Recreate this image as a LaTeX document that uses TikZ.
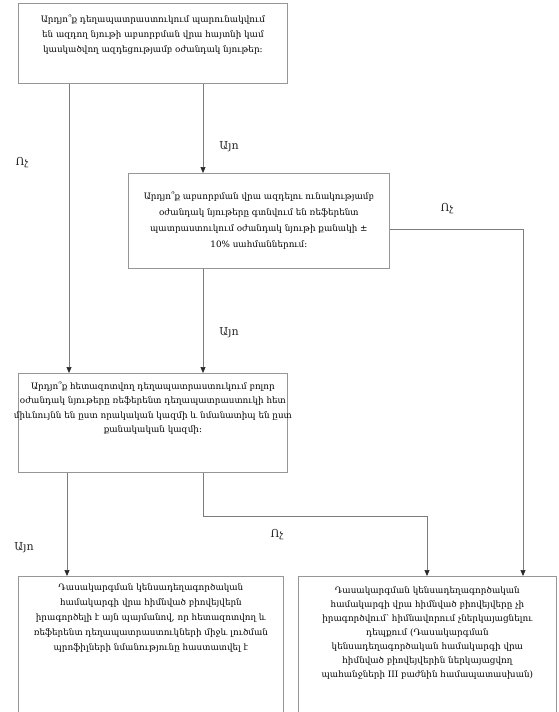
\documentclass[tikz,border=0pt]{standalone}
\usepackage{fontspec}
\setmainfont{DejaVu Serif}
\usetikzlibrary{arrows.meta}
\definecolor{boxgray}{RGB}{150,150,150}
\definecolor{linegray}{RGB}{125,125,125}
\definecolor{tipgray}{RGB}{40,40,40}
\tikzset{
  box/.style={draw=boxgray, line width=0.8pt, inner sep=0pt, anchor=north west},
  arr/.style={draw=linegray, line width=0.7pt, -{Triangle[length=6pt,width=5pt,fill=tipgray,color=tipgray]}},
  lbl/.style={font=\fontsize{11}{13}\selectfont, inner sep=0pt, text=black!85},
}
\newcommand{\boxtext}[5]{\parbox[c][#2][t]{#1}{\vspace*{#3}\makebox[#1]{\parbox[t]{\dimexpr#1+40pt\relax}{\centering\fontsize{8.8}{#4}\selectfont #5\par}}}}
\begin{document}
\begin{tikzpicture}[x=1pt,y=-1pt]
\useasboundingbox (0,0) rectangle (558,712);
\node[box] (b1) at (18,3) {\boxtext{269pt}{80pt}{11.5pt}{15pt}{Արդյո՞ք դեղապատրաստուկում պարունակվում\\
են ազդող նյութի աբսորբման վրա հայտնի կամ\\
կասկածվող ազդեցությամբ օժանդակ նյութեր։}};
\node[box] (b2) at (128,173) {\boxtext{261pt}{95pt}{18.5pt}{16pt}{Արդյո՞ք աբսորբման վրա ազդելու ունակությամբ\\
օժանդակ նյութերը գտնվում են ռեֆերենտ\\
պատրաստուկում օժանդակ նյութի քանակի ±\\
10\% սահմաններում։}};
\node[box] (b3) at (18,373) {\boxtext{269pt}{99pt}{8.5pt}{14.5pt}{Արդյո՞ք հետազոտվող դեղապատրաստուկում բոլոր\\
օժանդակ նյութերը ռեֆերենտ դեղապատրաստուկի հետ\\
միևնույնն են ըստ որակական կազմի և նմանատիպ են ըստ\\
քանակական կազմի։}};
\node[box] (b4) at (18,576) {\boxtext{265pt}{142pt}{7.5pt}{15pt}{Դասակարգման կենսադեղագործական\\
համակարգի վրա հիմնված բիովեյվերն\\
իրագործելի է այն պայմանով, որ հետազոտվող և\\
ռեֆերենտ դեղապատրաստուկների միջև լուծման\\
պրոֆիլների նմանությունը հաստատվել է}};
\node[box] (b5) at (298,576) {\boxtext{258pt}{142pt}{10.5pt}{14pt}{Դասակարգման կենսադեղագործական\\
համակարգի վրա հիմնված բիովեյվերը չի\\
իրագործվում՝ հիմնավորում չներկայացնելու\\
դեպքում (Դասակարգման\\
կենսադեղագործական համակարգի վրա\\
հիմնված բիովեյվերին ներկայացվող\\
պահանջների III բաժնին համապատասխան)}};
% connectors
\draw[arr] ([xshift=51pt]b1.south west) -- ([xshift=51pt]b3.north west);
\draw[arr] ([xshift=185pt]b1.south west) -- ([xshift=75pt]b2.north west);
\draw[arr] ([yshift=-56pt]b2.north east) -| ([xshift=225pt]b5.north west);
\draw[arr] ([xshift=75pt]b2.south west) -- ([xshift=185pt]b3.north west);
\draw[arr] ([xshift=49pt]b3.south west) -- ([xshift=49pt]b4.north west);
\draw[arr] ([xshift=185pt]b3.south west) -- ++(0,44) -| ([xshift=129pt]b5.north west);
% labels
\node[lbl] (l1) at (22,163) {Ոչ};
\node[lbl] (l2) at (229,147) {Այո};
\node[lbl] (l3) at (447,209) {Ոչ};
\node[lbl] (l4) at (229,333) {Այո};
\node[lbl] (l5) at (24,548) {Այո};
\node[lbl] (l6) at (277,535) {Ոչ};
\end{tikzpicture}
\end{document}
